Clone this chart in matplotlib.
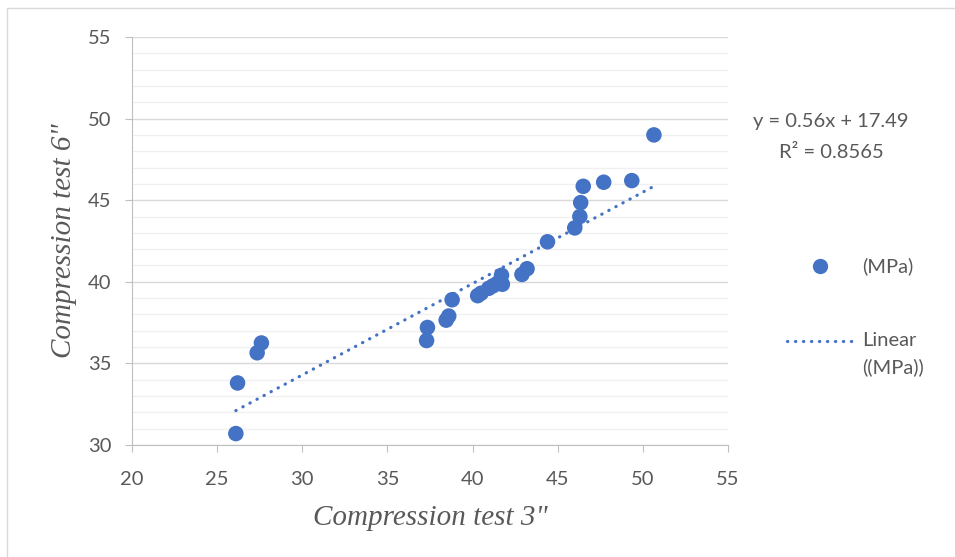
import numpy as np
import matplotlib.pyplot as plt
from matplotlib.lines import Line2D
from matplotlib.patches import Rectangle

# values (MPa)
test_3in = [26.1, 26.2, 27.35, 27.6, 37.3, 37.35, 38.45, 38.6, 38.8, 40.3,
            40.5, 40.95, 41.2, 41.45, 41.7, 41.75, 42.9, 43.2, 44.4, 46.0,
            46.3, 46.35, 46.5, 47.7, 49.35, 50.65]
test_6in = [30.7, 33.8, 35.65, 36.25, 36.4, 37.2, 37.65, 37.9, 38.9, 39.15,
            39.3, 39.6, 39.75, 39.9, 40.4, 39.85, 40.45, 40.8, 42.45, 43.3,
            44.0, 44.85, 45.85, 46.1, 46.2, 49.0]
slope = 0.56
intercept = 17.49
r2 = 0.8565

blue = '#4472C4'
grey_txt = '#595959'
dots = (0, (0.1, 2.4))

fig = plt.figure(figsize=(9.55, 5.57), dpi=100)
ax = fig.add_axes([0.1382, 0.2011, 0.6241, 0.7325])

# chart area border (only left/top visible in the crop)
fig.add_artist(Rectangle((7/955, -0.1), 1.2, 1 - 8/557 + 0.1, transform=fig.transFigure,
                         fill=False, edgecolor='#D9D9D9', lw=1))

ax.set_xlim(20, 55)
ax.set_ylim(30, 55)
ax.set_xticks(np.arange(20, 56, 5))
ax.set_yticks(np.arange(30, 56, 5))
ax.set_yticks(np.arange(30, 56, 1), minor=True)
ax.grid(axis='y', which='major', color='#D9D9D9', lw=1)
ax.grid(axis='y', which='minor', color='#F0F0F0', lw=1)
ax.set_axisbelow(True)
for s in ['top', 'right']:
    ax.spines[s].set_visible(False)
for s in ['left', 'bottom']:
    ax.spines[s].set_color('#BFBFBF')
ax.tick_params(which='major', colors='#BFBFBF', length=5, labelcolor=grey_txt, labelsize=14.5)
ax.tick_params(which='minor', length=0)
for lab in ax.get_xticklabels() + ax.get_yticklabels():
    lab.set_family('Lato')
ax.tick_params(axis='x', pad=14)
ax.tick_params(axis='y', pad=10)

xs = np.array(test_3in)
xl = np.array([xs.min(), xs.max()])
ax.plot(xl, slope * xl + intercept, color=blue, lw=2.3, linestyle=dots,
        dash_capstyle='round', zorder=2)
ax.scatter(test_3in, test_6in, s=125, color=blue, zorder=3, edgecolors='none')

ax.set_xlabel('Compression test 3"', family='Liberation Serif', style='italic',
              fontsize=21, color=grey_txt, labelpad=12)
ax.set_ylabel('Compression test 6"', family='Liberation Serif', style='italic',
              fontsize=21, color=grey_txt, labelpad=8)

fig.text(831/955, 1 - 122/557, 'y = %.2fx + %.2f' % (slope, intercept), ha='center', va='center',
         family='Lato', fontsize=14.5, color=grey_txt)
fig.text(831/955, 1 - 152/557, 'R² = %.4f' % r2, ha='center', va='center',
         family='Lato', fontsize=14.5, color=grey_txt)

# legend entries
fig.add_artist(Line2D([820/955], [1 - 266/557], transform=fig.transFigure, marker='o',
                      markersize=11, color=blue, lw=0, markeredgewidth=0))
fig.text(862/955, 1 - 266/557, '(MPa)', va='center', family='Lato', fontsize=14.5, color=grey_txt)
fig.add_artist(Line2D([787/955, 855/955], [1 - 341/557, 1 - 341/557], transform=fig.transFigure,
                      color=blue, lw=2.3, linestyle=dots, dash_capstyle='round'))
fig.text(862/955, 1 - 341/557, 'Linear', va='center', family='Lato', fontsize=14.5, color=grey_txt)
fig.text(862/955, 1 - 367/557, '((MPa))', va='center', family='Lato', fontsize=14.5, color=grey_txt)

fig.savefig('out.png', dpi=100)
